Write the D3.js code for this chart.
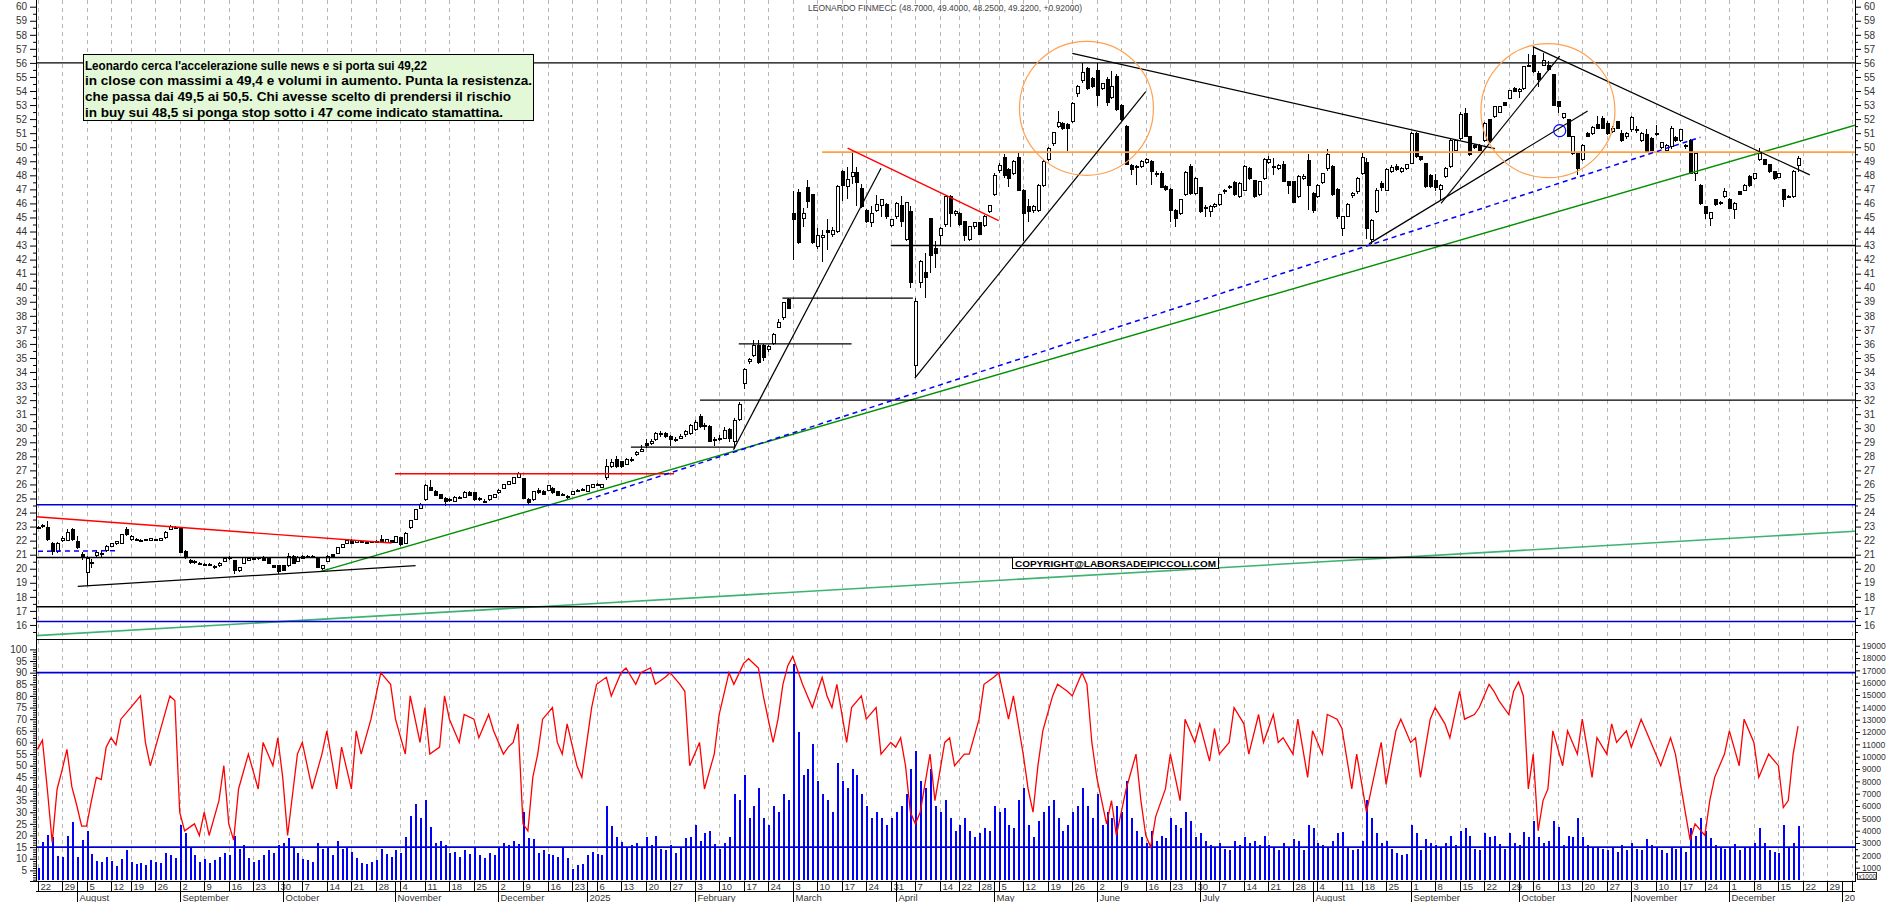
<!DOCTYPE html>
<html><head><meta charset="utf-8">
<script src="https://cdn.jsdelivr.net/npm/d3@7"></script>
<style>body{margin:0;background:#fff;overflow:hidden}svg{display:block;font-family:"Liberation Sans",Arial,sans-serif}</style>
</head><body>
<svg id="c" width="1890" height="902"></svg>
<script>
// ---------------- DATA ----------------
const title = "LEONARDO FINMECC (48.7000, 49.4000, 48.2500, 49.2200, +0.92000)";
const noteLines = [
 "Leonardo cerca l'accelerazione sulle news e si porta sui 49,22",
 "in close con massimi a 49,4 e volumi in aumento. Punta la resistenza.",
 "che passa dai 49,5 ai 50,5. Chi avesse scelto di prendersi il rischio",
 "in buy sui 48,5 si ponga stop sotto i 47 come indicato stamattina."
];
const copyright = "COPYRIGHT@LABORSADEIPICCOLI.COM";
const firstDay = "2024-07-22", lastDay = "2025-12-19", axisEnd = "2026-01-05";
const holidays = ["2024-08-15","2024-12-24","2024-12-25","2024-12-26","2024-12-31","2025-01-01","2025-04-18","2025-04-21","2025-05-01","2025-08-15"];
const weekTicks = ["2024-07-22","2024-07-29","2024-08-05","2024-08-12","2024-08-19","2024-08-26","2024-09-02","2024-09-09","2024-09-16","2024-09-23","2024-09-30","2024-10-07","2024-10-14","2024-10-21","2024-10-28","2024-11-04","2024-11-11","2024-11-18","2024-11-25","2024-12-02","2024-12-09","2024-12-16","2024-12-23","2025-01-06","2025-01-13","2025-01-20","2025-01-27","2025-02-03","2025-02-10","2025-02-17","2025-02-24","2025-03-03","2025-03-10","2025-03-17","2025-03-24","2025-03-31","2025-04-07","2025-04-14","2025-04-22","2025-04-28","2025-05-05","2025-05-12","2025-05-19","2025-05-26","2025-06-02","2025-06-09","2025-06-16","2025-06-23","2025-06-30","2025-07-07","2025-07-14","2025-07-21","2025-07-28","2025-08-04","2025-08-11","2025-08-18","2025-08-25","2025-09-01","2025-09-08","2025-09-15","2025-09-22","2025-09-29","2025-10-06","2025-10-13","2025-10-20","2025-10-27","2025-11-03","2025-11-10","2025-11-17","2025-11-24","2025-12-01","2025-12-08","2025-12-15","2025-12-22","2025-12-29","2026-01-05"];
const monthTicks = [["2024-08-01","August"],["2024-09-02","September"],["2024-10-01","October"],["2024-11-01","November"],["2024-12-02","December"],["2025-01-02","2025"],["2025-02-03","February"],["2025-03-03","March"],["2025-04-01","April"],["2025-05-02","May"],["2025-06-02","June"],["2025-07-01","July"],["2025-08-01","August"],["2025-09-01","September"],["2025-10-01","October"],["2025-11-03","November"],["2025-12-01","December"],["2026-01-01","2026"]];
const priceTicks = d3.range(16, 61);
const rsiTicks = d3.range(5, 101, 5);
const volumeTicks = d3.range(1000, 19001, 1000);

// daily candles [open, high, low, close]
const ohlc = [
[22.85,23.05,22.8,22.95],[23.0,23.15,22.9,23.05],[22.9,23.4,22.0,22.1],[21.8,21.9,21.0,21.2],[21.2,21.9,21.1,21.8],
[22.0,22.3,21.9,22.15],[22.0,22.8,21.95,22.55],[22.8,22.9,22.0,22.1],[21.95,22.3,21.4,21.5],[21.0,21.2,20.6,20.8],
[19.7,20.9,18.8,20.75],[20.4,20.7,20.05,20.45],[20.95,21.3,20.85,21.15],[21.1,21.3,20.75,21.05],[21.3,21.7,21.2,21.6],
[21.6,21.85,21.55,21.78],[21.8,22.0,21.7,21.95],[21.8,22.5,21.75,22.42],[22.8,23.0,22.3,22.45],[22.05,22.4,21.95,22.3],
[22.1,22.2,21.95,22.05],[22.0,22.1,21.9,22.0],[22.05,22.15,21.95,22.05],[22.0,22.2,21.95,22.15],[22.05,22.15,21.95,22.05],
[22.0,22.2,21.95,22.15],[22.2,22.7,22.15,22.6],[22.8,23.1,22.75,23.0],[22.95,23.05,22.85,22.95],[22.95,23.0,21.1,21.15],
[21.2,21.3,20.7,20.8],[20.6,20.7,20.35,20.45],[20.45,20.6,20.35,20.5],[20.4,20.5,20.25,20.4],[20.3,20.4,20.2,20.3],
[20.3,20.4,20.2,20.3],[20.15,20.3,20.0,20.15],[20.2,20.45,20.15,20.4],[20.5,20.75,20.45,20.7],[20.7,20.9,20.65,20.8],
[20.6,20.65,19.6,19.9],[19.9,20.15,19.8,20.1],[20.4,20.85,20.35,20.8],[20.6,20.8,20.55,20.7],[20.7,20.8,20.6,20.7],
[20.7,20.85,20.6,20.8],[20.8,20.9,20.55,20.6],[20.8,20.85,20.35,20.4],[20.2,20.3,20.05,20.1],[20.2,20.3,19.65,19.8],
[20.2,20.25,19.85,19.9],[20.2,21.1,20.15,20.9],[20.9,21.0,20.35,20.4],[20.5,20.9,20.45,20.8],[20.9,21.0,20.7,20.75],
[20.9,20.95,20.75,20.8],[20.85,20.95,20.75,20.85],[20.8,20.85,20.05,20.1],[20.0,20.3,19.9,20.2],[20.5,21.0,20.45,20.9],
[21.0,21.05,20.85,20.9],[21.1,21.55,21.05,21.5],[21.5,21.75,21.45,21.7],[21.8,22.05,21.75,22.0],[22.0,22.1,21.75,21.8],
[21.9,22.05,21.85,22.0],[21.95,22.0,21.9,21.95],[21.9,21.95,21.85,21.9],[21.95,22.0,21.85,21.9],[21.95,22.05,21.85,21.95],
[22.1,22.4,21.85,21.9],[21.9,22.15,21.85,22.1],[22.0,22.05,21.85,21.9],[21.9,22.35,21.85,22.3],[22.2,22.25,21.65,21.7],
[21.8,22.6,21.75,22.5],[22.9,23.5,22.85,23.4],[23.5,24.25,23.45,24.2],[24.3,24.7,24.25,24.6],[24.9,26.0,24.85,25.9],
[25.8,26.3,25.5,25.6],[25.5,25.6,25.15,25.2],[25.3,25.35,24.95,25.0],[25.0,25.1,24.5,24.8],[24.9,25.05,24.75,24.9],
[24.8,25.15,24.75,25.1],[25.0,25.2,24.95,25.1],[25.1,25.5,25.05,25.4],[25.4,25.5,25.15,25.2],[25.4,25.45,24.85,24.9],
[25.0,25.1,24.85,24.9],[24.8,24.95,24.7,24.8],[24.9,25.25,24.85,25.2],[25.1,25.35,25.05,25.3],[25.4,25.65,25.35,25.6],
[25.7,26.05,25.65,26.0],[26.0,26.25,25.95,26.2],[26.1,26.55,26.05,26.5],[26.5,26.85,26.45,26.8],[26.4,26.45,24.95,25.0],
[24.9,25.0,24.6,24.7],[24.9,25.55,24.85,25.5],[25.6,25.75,25.35,25.4],[25.5,25.6,25.25,25.3],[25.6,25.95,25.55,25.9],
[25.7,25.8,25.35,25.4],[25.5,25.55,25.15,25.2],[25.3,25.4,25.2,25.3],[25.15,25.25,24.95,25.15],[25.3,25.55,25.25,25.5],
[25.6,25.7,25.5,25.6],[25.65,25.75,25.55,25.65],[25.5,25.95,25.45,25.9],[25.8,26.05,25.75,26.0],[26.0,26.1,25.9,26.0],
[25.8,26.05,25.75,26.0],[26.5,27.8,26.3,27.25],[27.3,27.8,27.2,27.55],[27.75,28.0,27.2,27.3],[27.6,27.7,27.15,27.25],
[27.45,27.9,27.4,27.8],[27.75,27.95,27.6,27.8],[28.1,28.4,28.0,28.3],[28.35,28.8,28.3,28.5],[28.9,29.2,28.6,28.75],
[28.9,29.2,28.8,29.05],[29.2,29.7,29.1,29.6],[29.55,29.8,29.4,29.65],[29.6,29.75,29.3,29.4],[29.4,29.5,28.7,29.2],
[29.2,29.4,29.0,29.2],[29.3,29.6,29.2,29.4],[29.55,29.9,29.4,29.8],[29.6,30.3,29.5,30.2],[29.9,30.6,29.8,30.4],
[30.8,31.0,30.0,30.1],[30.2,30.4,29.9,30.2],[30.1,30.2,29.0,29.05],[29.2,29.4,28.7,29.2],[29.3,29.5,29.1,29.3],
[29.3,30.1,29.2,29.85],[29.9,30.0,29.0,29.3],[29.05,30.7,28.5,30.55],[30.6,31.9,30.5,31.7],[33.2,34.3,32.8,34.2],
[34.75,35.0,34.6,34.9],[35.2,36.3,35.1,35.9],[35.9,36.3,34.6,34.7],[35.9,36.0,34.8,35.0],[35.6,35.9,35.4,35.8],
[36.0,36.8,35.9,36.7],[37.2,37.8,37.1,37.5],[37.9,39.0,37.7,38.95],[39.14,39.3,38.5,38.55],[45.3,46.85,41.95,44.85],
[46.75,47.0,43.1,43.2],[44.95,45.7,44.35,45.3],[47.1,47.7,45.65,46.15],[46.6,46.65,43.1,43.2],[42.95,44.25,42.75,43.75],
[43.6,44.1,41.8,43.75],[44.1,44.9,42.7,43.9],[43.8,44.3,43.6,44.1],[44.0,47.3,43.9,47.2],[48.3,48.4,46.2,47.25],
[47.2,48.6,46.3,47.7],[47.95,49.8,47.4,48.2],[48.2,48.6,45.8,47.5],[47.05,47.4,45.7,45.8],[45.5,45.6,44.6,44.7],
[44.65,45.8,44.35,45.25],[45.5,46.6,45.4,45.9],[45.85,46.3,45.0,46.3],[45.9,46.0,44.9,45.05],[44.45,44.9,44.3,44.85],
[45.05,46.1,44.9,46.0],[45.85,46.5,44.35,44.7],[43.4,46.1,43.3,46.05],[45.4,45.8,39.95,40.4],[34.5,39.3,33.55,39.0],
[40.35,41.95,39.95,41.9],[41.05,42.45,39.25,40.75],[44.9,44.9,41.05,42.3],[42.8,43.3,41.4,42.45],[43.75,44.35,42.95,44.25],
[44.5,46.5,44.3,46.5],[46.5,46.6,44.35,45.3],[45.3,45.5,45.1,45.4],[45.3,45.4,44.4,44.5],[44.7,44.75,43.3,43.75],
[43.4,44.4,43.3,44.35],[44.35,44.7,44.2,44.65],[44.65,44.7,43.8,43.8],[44.45,45.15,44.35,45.1],[45.4,45.9,45.3,45.85],
[46.6,48.2,46.5,48.0],[48.35,48.9,48.2,48.7],[49.3,49.5,47.8,48.0],[48.4,48.5,47.2,47.8],[48.15,49.1,48.0,49.0],
[49.3,49.6,46.9,46.95],[46.9,47.0,43.3,45.3],[45.8,46.3,44.7,45.4],[45.5,45.9,45.3,45.8],[45.5,47.4,45.4,47.3],
[47.3,49.1,47.2,49.0],[49.1,50.0,49.0,49.9],[50.25,51.1,50.1,51.05],[51.5,52.6,51.4,51.75],[51.7,51.8,51.2,51.3],
[51.6,51.7,49.7,51.35],[51.8,53.2,51.7,53.1],[53.8,54.4,53.6,54.3],[54.75,56.0,54.6,55.3],[55.6,55.7,54.1,54.2],
[54.9,55.0,54.2,54.3],[55.45,56.0,52.9,53.7],[54.2,54.6,54.1,54.5],[54.8,55.0,52.9,53.2],[53.55,55.4,53.4,54.3],
[55.0,55.2,52.6,52.65],[53.0,53.1,51.9,52.0],[51.5,51.6,48.7,48.8],[48.7,48.8,48.0,48.4],[48.6,48.7,47.3,48.6],
[48.6,49.1,48.5,49.0],[48.9,49.2,48.8,49.1],[49.0,49.1,47.3,48.3],[48.15,48.3,47.9,48.15],[48.15,48.3,47.1,47.15],
[47.2,47.3,46.9,47.0],[47.0,47.1,44.7,45.5],[45.5,45.6,44.3,44.95],[45.3,46.3,45.2,46.25],[46.6,48.3,46.5,48.2],
[48.65,48.8,46.6,46.7],[46.7,47.9,46.6,47.8],[47.1,47.2,45.3,45.4],[45.7,45.9,45.0,45.65],[45.4,45.9,45.0,45.8],
[45.8,46.0,45.7,45.9],[45.9,46.7,45.8,46.6],[46.9,47.05,46.7,46.9],[47.1,47.3,47.0,47.2],[47.5,47.6,46.5,46.6],
[46.5,47.5,46.4,47.4],[46.95,48.7,46.9,48.6],[48.5,48.6,47.7,47.8],[47.6,47.7,46.4,46.5],[46.6,47.6,46.5,47.55],
[47.8,49.2,47.7,49.1],[48.9,49.4,48.8,49.1],[48.6,49.2,48.0,48.6],[48.5,48.8,48.4,48.7],[48.75,49.0,47.5,47.55],
[47.55,47.6,46.7,47.3],[47.55,47.6,46.0,46.1],[46.5,48.0,46.4,47.9],[47.8,48.1,47.7,47.95],[49.05,49.5,45.5,47.25],
[46.7,46.8,45.3,45.5],[46.5,47.4,46.4,47.3],[47.5,48.2,47.4,48.15],[48.45,49.9,48.3,49.45],[48.6,48.7,46.5,46.6],
[47.0,47.1,44.9,45.1],[44.2,45.1,43.7,45.1],[45.1,46.0,45.0,45.95],[46.55,46.8,46.4,46.7],[46.85,47.9,46.7,47.8],
[48.15,49.6,48.0,49.3],[48.9,49.2,43.5,44.25],[43.4,44.9,43.1,44.8],[45.4,47.1,45.3,46.95],[47.45,47.6,46.9,47.1],
[46.95,48.5,46.9,48.4],[48.3,48.7,48.2,48.55],[48.6,48.8,48.3,48.4],[48.3,48.6,48.2,48.5],[48.5,48.8,48.4,48.75],
[48.85,51.1,48.8,51.0],[51.0,51.1,49.2,49.35],[49.35,49.4,49.0,49.15],[48.85,48.9,47.1,47.2],[48.0,48.1,47.1,47.2],
[47.65,48.1,46.9,47.1],[47.0,47.4,46.2,47.3],[47.9,48.6,47.8,48.5],[48.6,50.6,48.5,50.5],[49.8,50.6,49.7,50.5],
[50.65,52.5,50.5,52.3],[52.4,52.8,50.7,50.75],[50.75,50.8,49.4,49.45],[50.15,50.2,49.9,49.95],[50.1,50.2,49.7,49.8],
[50.5,51.8,50.4,51.7],[51.95,52.0,50.4,50.5],[52.2,52.95,52.1,52.9],[52.5,52.95,52.4,52.9],[53.15,53.2,52.9,53.0],
[53.5,54.1,53.4,54.05],[54.2,54.3,53.9,53.95],[53.95,54.2,53.5,54.1],[54.2,55.8,54.1,55.75],[55.8,56.6,55.7,55.85],
[56.55,57.15,55.3,55.4],[55.25,55.4,54.3,54.8],[55.85,56.7,55.8,56.2],[55.85,56.1,55.4,55.5],[55.15,55.2,52.9,53.0],
[53.25,53.3,52.4,52.9],[52.15,52.45,52.0,52.4],[51.95,52.0,50.7,50.75],[49.55,50.8,49.45,50.75],[49.55,49.6,48.0,48.5],
[49.1,50.2,49.0,50.15],[50.95,51.1,50.7,50.75],[51.0,51.5,50.9,51.4],[51.6,52.2,51.3,51.35],[52.05,52.2,51.3,51.35],
[51.7,51.9,50.9,51.0],[51.1,51.5,51.0,51.35],[51.8,51.9,51.3,51.35],[51.0,51.2,50.4,50.5],[50.75,51.1,50.6,51.0],
[51.25,52.2,51.1,52.1],[51.2,51.5,51.0,51.25],[50.5,51.1,50.4,51.0],[50.9,51.3,49.6,49.7],[50.65,50.7,49.7,49.8],
[51.0,51.6,50.8,51.0],[49.95,50.4,49.9,50.3],[49.8,50.2,49.7,50.15],[50.05,51.5,49.9,51.35],[50.7,50.8,50.4,50.5],
[50.5,51.3,50.4,51.25],[50.05,50.2,49.9,50.15],[50.5,50.6,48.1,48.15],[48.15,49.6,47.6,49.55],[47.3,47.35,45.9,46.0],
[45.8,45.85,44.9,45.3],[44.95,45.4,44.4,45.35],[46.25,46.3,45.8,45.9],[46.1,46.2,45.9,46.0],[46.5,47.1,46.4,46.85],
[46.3,46.4,45.6,45.65],[45.55,46.1,44.9,46.0],[46.85,46.9,46.6,46.65],[46.95,47.4,46.9,47.3],[47.9,48.0,47.2,47.25],
[47.8,48.2,47.7,48.15],[49.1,49.95,49.0,49.55],[49.1,49.15,48.7,48.75],[48.75,48.8,48.2,48.3],[48.25,48.3,47.7,47.8],
[47.85,48.2,47.8,48.15],[47.0,47.05,45.75,46.3],[46.45,46.6,46.4,46.5],[46.5,48.35,46.4,48.3],[48.7,49.4,48.25,49.22]
];
// daily volume (axis units, x1000)
const volumes = [
1000,3060,3650,3510,1950,1890,3570,4730,1890,3250, 4000,2110,1580,1470,1890,1580,1160,1700,2400,1500,
1300,1400,1200,1600,1500,1400,2200,2000,1800, 4500,3800,2600,2000,1500,1700,1400,1600,1900,2200,
2000,3600,2500,2800,1800,1500,1600,2000,2400,2200,2800, 3000,3400,2600,2200,1700,1600,1500,3000,2500,2600,
2000,3200,2500,2700,2300,1800,1400,1300,1500,1600,2500,2100,1900, 2400,2200,3500,5200,6200,5000,6500,4300,3000,3200,
2800,2200,2300,1900,2400,2100,2600,2000,1800,2200,2000, 2600,3000,2800,3200,2900,5500,3400,3300,2200,2400,
2100,2000,1900,2600,1800,900,1200,1300, 2000,2300,2100,2000,6000,4400,3500,3100,2600,2800,
3000,2700,3500,2800,3600,2500,2400,2800,2200,2600,3400,3500, 4500,3200,3800,4000,2900,2500,3000,3500,7000,6500,
8500,5000,6000,7500,5000,4500,6000,5500,7000,6500, 17500,12000,8500,9000,11000,8000,7000,6500,5500,9500,
8000,7500,9000,8500,7000,6000,5000,5500,5000,4500,5000, 5500,6000,7000,9000,10500,8000,7500,9000,6000,5500,
6500,5000,4000,4500,5000,4000,3500,3800,4200,4000, 6000,5500,5800,4500,4200,6500,7500,4500,3500,4800,5500,
6000,6500,5000,4000,4500,5500,6000,7500,6000,5000, 7000,4500,5500,5000,6000,5500,8000,5000,4000,3500,3000,
4000,3200,3600,3400,5000,4500,4200,5500,4800,3500, 3800,3200,2800,2600,3000,2500,2400,3200,2800,3500,3000,
3200,2800,3600,2800,2600,2400,3000,2700,3300,3200,2400,4500, 4200,3000,2800,2700,3200,3800,3900,2600,2400,2500,
3200,6500,5000,3800,3000,3200,2500,2200,2000,2100, 4500,3800,2400,3300,3000,2800,2600,3000,3600,2800,4000,
4200,3600,2500,2400,3800,3500,3600,2900,2500,3800,3000, 2800,3900,3500,4800,3500,3000,3200,4800,4300,2800,3600,
3500,5000,3500,2800,2600,2700,2500,2400,2600,2300,2800,2400, 3000,2500,2400,3300,2800,2600,2400,2200,2700,2500,
2600,2300,4200,3600,5000,4000,3400,2800,2600,2500, 2600,2900,2400,2700,2600,3000,4200,3000,2400,2300,2200,4500,2600,3000,4400
];
// oscillator readings [day index, value]
const rsiPoints = [[0,57],[1,61],[2,40],[3,17],[4,40],[5,48],[6,57],[7,41],[8,33],[9,24],[10,24],[11,35],[12,45],[13,44],[14,58],[15,62],[16,59],[17,70],[19,75],[21,80],[22,60],[23,50],[25,65],[27,80],[28,78],[29,30],[30,22],[32,25],[33,20],[34,30],[35,20],[37,35],[38,50],[39,25],[40,18],[41,40],[43,55],[45,40],[46,60],[48,50],[49,62],[50,45],[51,20],[53,55],[54,60],[56,40],[58,55],[59,65],[61,40],[62,58],[64,40],[65,65],[66,55],[68,70],[70,90],[72,85],[73,70],[75,55],[76,80],[78,60],[79,75],[80,55],[82,58],[83,80],[84,70],[86,60],[87,72],[89,70],[90,62],[92,72],[93,65],[95,55],[96,58],[97,60],[98,68],[99,25],[100,22],[101,45],[102,55],[103,70],[105,75],[106,60],[107,55],[108,68],[110,50],[111,45],[113,75],[114,85],[116,88],[117,80],[119,90],[120,92],[122,85],[123,90],[125,92],[126,85],[128,88],[129,90],[131,85],[132,82],[133,50],[135,60],[136,40],[138,55],[139,72],[141,90],[142,85],[144,94],[145,96],[147,92],[148,80],[150,60],[151,70],[152,85],[153,93],[154,97],[156,85],[157,80],[158,75],[160,88],[161,80],[162,75],[163,85],[165,60],[166,75],[168,80],[169,70],[171,75],[172,55],[174,60],[175,58],[176,62],[177,50],[178,30],[179,25],[180,30],[182,55],[183,35],[185,60],[186,62],[187,50],[189,55],[190,55],[192,70],[193,85],[195,88],[196,90],[198,70],[199,80],[201,55],[202,40],[203,30],[204,50],[205,65],[207,80],[208,85],[210,82],[211,80],[213,90],[214,85],[215,60],[216,45],[218,25],[219,35],[220,20],[222,40],[224,55],[225,35],[226,20],[227,15],[228,28],[230,40],[231,55],[233,35],[234,70],[236,60],[237,68],[239,52],[240,66],[241,55],[243,60],[244,75],[246,68],[247,55],[249,72],[250,60],[252,72],[253,60],[254,62],[256,55],[257,70],[259,45],[260,65],[262,55],[263,72],[265,70],[266,66],[268,40],[269,55],[271,30],[272,40],[274,60],[275,42],[277,65],[278,70],[280,60],[281,62],[282,45],[284,70],[285,75],[287,68],[288,62],[290,82],[291,70],[293,72],[294,75],[296,85],[297,82],[298,78],[300,72],[301,82],[302,86],[303,80],[304,40],[305,55],[306,22],[307,35],[308,40],[309,65],[311,50],[312,65],[314,55],[315,70],[317,45],[318,62],[320,55],[321,68],[322,60],[324,65],[325,58],[327,70],[328,65],[330,55],[331,50],[333,62],[334,55],[336,30],[337,18],[338,25],[340,20],[341,35],[342,45],[344,55],[345,65],[347,50],[348,70],[350,60],[351,45],[353,55],[355,50],[356,32],[357,35],[358,55],[359,67]];

// drawn study lines: [dayIndex1, price1, dayIndex2, price2]
const blackSegments = [[8.2,18.75,77.1,20.22],[121,28.66,142.3,28.66],[141.9,28.47,172,48.5],[151.9,39.26,178.5,39.26],[143,36.0,166,36.0],[178.9,33.57,226,53.96],[211,56.68,297.2,49.9],[271.5,43.12,316.1,52.58],[286.2,46.0,310.4,56.49],[304.9,57.16,361.4,48.03]];
const blackLevels = [[null,56],[null,20.8],[null,17.3],[135.1,32],[174,43]]; // [start day index (null = left edge), price]
const blueLevels = [24.55, 16.25];
const orangeLevels = [[160,49.65]];
const redSegments = [[null,23.7,72.2,21.83],[72.9,26.76,129.8,26.76],[165.2,49.93,196,44.78]];
const blueDashed = [[0.1,21.25,16.2,21.28],[112.1,24.9,339.1,50.71]];
const greenDark = [[57.8,19.81,null,51.56]];
const greenLight = [[null,15.24,null,22.67]];
const orangeCircles = [[213.9,52.77],[308,52.6]];
const blueCircles = [[310.4,51.18]];
const rsiLevels = [90, 15];

// ---------------- CHART ----------------
const svg = d3.select("#c");
const L = 36, R = 1855, priceBottom = 639, lowTop = 639, lowBottom = 881.5;
const parse = d3.utcParse("%Y-%m-%d"), fmt = d3.utcFormat("%Y-%m-%d");
const isWeekday = d => d.getUTCDay() % 6 !== 0;
const past = d3.utcDay.range(parse(firstDay), d3.utcDay.offset(parse(lastDay), 1)).filter(d => isWeekday(d) && !holidays.includes(fmt(d)));
const future = d3.utcDay.range(d3.utcDay.offset(parse(lastDay), 1), d3.utcDay.offset(parse(axisEnd), 1)).filter(isWeekday);
const days = past.concat(future).map(fmt);
const dayIndex = new Map(days.map((d, i) => [d, i]));

const step = 4.904;
const x = d3.scaleLinear().domain([0, days.length - 1]).range([37.5, 37.5 + (days.length - 1) * step]);
const iL = x.invert(L), iR = x.invert(R);
const yP = d3.scaleLinear().domain([15, 60]).range([priceBottom, 6.7]);
const yR = d3.scaleLinear().domain([0, 100]).range([882, 649.4]);
const yV = d3.scaleLinear().domain([0, 19000]).range([880, 645.7]);

const defs = svg.append("defs");
defs.append("clipPath").attr("id", "clipP").append("rect").attr("x", L).attr("y", 0).attr("width", R - L).attr("height", priceBottom);
defs.append("clipPath").attr("id", "clipL").append("rect").attr("x", L).attr("y", lowTop).attr("width", R - L).attr("height", lowBottom - lowTop);
defs.append("clipPath").attr("id", "clipX").append("rect").attr("x", 0).attr("y", 0).attr("width", R).attr("height", 902);

// weekly grid
const gridX = weekTicks.map(d => Math.round(x(dayIndex.get(d))) + 0.5);
svg.append("g").selectAll("line").data(gridX).join("line")
  .attr("x1", d => d).attr("x2", d => d).attr("y1", 0).attr("y2", lowBottom)
  .attr("stroke", "#b4b4b4").attr("stroke-dasharray", "4,4");

// ---- price panel
const gp = svg.append("g").attr("clip-path", "url(#clipP)");
const seg = (g, data, color, w, dash) => g.append("g").selectAll("line").data(data).join("line")
  .attr("x1", d => x(d[0] === null ? iL : d[0])).attr("y1", d => yP(d[1]))
  .attr("x2", d => x(d[2] === null ? iR : d[2])).attr("y2", d => yP(d[3]))
  .attr("stroke", color).attr("stroke-width", w).attr("stroke-dasharray", dash || null);

// candles
const cg = gp.append("g").attr("shape-rendering", "crispEdges");
const cand = cg.selectAll("g").data(ohlc).join("g");
cand.append("line")
  .attr("x1", (d, i) => Math.round(x(i)) + 0.5).attr("x2", (d, i) => Math.round(x(i)) + 0.5)
  .attr("y1", d => yP(d[1])).attr("y2", d => yP(d[2])).attr("stroke", "#000");
cand.append("rect")
  .attr("x", (d, i) => Math.round(x(i)) - 1)
  .attr("y", d => yP(Math.max(d[0], d[3])))
  .attr("width", 3)
  .attr("height", d => Math.max(1, yP(Math.min(d[0], d[3])) - yP(Math.max(d[0], d[3]))))
  .attr("fill", d => d[3] < d[0] ? "#000" : "#fff").attr("stroke", "#000").attr("stroke-width", 1);

// levels and studies
seg(gp, greenLight, "#3cb371", 1.6);
seg(gp, greenDark, "#009000", 1.4);
seg(gp, blueLevels.map(p => [null, p, null, p]), "#0000d0", 1.6);
seg(gp, blackLevels.map(d => [d[0], d[1], null, d[1]]), "#000", 1.4);
seg(gp, orangeLevels.map(d => [d[0], d[1], null, d[1]]), "#ffa040", 1.6);
seg(gp, redSegments, "#ff0000", 1.4);
seg(gp, blackSegments, "#000", 1.2);
seg(gp, blueDashed, "#0000ff", 1.5, "5,4");
gp.append("g").selectAll("circle").data(orangeCircles).join("circle")
  .attr("cx", d => x(d[0])).attr("cy", d => yP(d[1])).attr("r", 67)
  .attr("fill", "none").attr("stroke", "#ffa050").attr("stroke-width", 1.2);
gp.append("g").selectAll("circle").data(blueCircles).join("circle")
  .attr("cx", d => x(d[0])).attr("cy", d => yP(d[1])).attr("r", 6)
  .attr("fill", "none").attr("stroke", "#0000ff").attr("stroke-width", 1.2);

// ---- lower panel
const gl = svg.append("g").attr("clip-path", "url(#clipL)");
gl.append("g").attr("shape-rendering", "crispEdges").selectAll("rect").data(volumes).join("rect")
  .attr("x", (d, i) => Math.round(x(i))).attr("width", 1.6)
  .attr("y", d => yV(d)).attr("height", d => yV(0) - yV(d)).attr("fill", "#0000ff");
gl.append("g").selectAll("line").data(rsiLevels).join("line")
  .attr("x1", L).attr("x2", R).attr("y1", d => yR(d)).attr("y2", d => yR(d))
  .attr("stroke", "#0000d0").attr("stroke-width", 1.6);
gl.append("path").datum(rsiPoints)
  .attr("d", d3.line().x(d => x(d[0])).y(d => yR(d[1])))
  .attr("fill", "none").attr("stroke", "#ff0000").attr("stroke-width", 1.3);

// ---- frame lines
const frame = svg.append("g").attr("stroke", "#000").attr("shape-rendering", "crispEdges");
frame.append("line").attr("x1", L).attr("x2", L).attr("y1", 0).attr("y2", lowBottom);
frame.append("line").attr("x1", R).attr("x2", R).attr("y1", 0).attr("y2", lowBottom);
frame.append("line").attr("x1", L).attr("x2", R).attr("y1", priceBottom + 0.5).attr("y2", priceBottom + 0.5).attr("stroke-width", 1.5);
frame.append("line").attr("x1", L - 6).attr("x2", R).attr("y1", lowBottom).attr("y2", lowBottom).attr("stroke-width", 1.5);
frame.append("line").attr("x1", L).attr("x2", R).attr("y1", 891.5).attr("y2", 891.5).attr("stroke-width", 1.5);

// ---- axes
const styleAxis = size => g => {
  g.select(".domain").remove();
  g.selectAll("text").attr("fill", "#333").attr("font-size", size).attr("font-family", "'Liberation Sans',Arial,sans-serif");
  g.selectAll("line").attr("stroke", "#000");
};
svg.append("g").attr("transform", `translate(${L},0)`).call(d3.axisLeft(yP).tickValues(priceTicks).tickSize(6).tickPadding(3)).call(styleAxis("10px"));
svg.append("g").attr("transform", `translate(${L},0)`).call(d3.axisLeft(yP).tickValues(priceTicks.map(v => v - 0.5)).tickSize(3).tickFormat("")).call(styleAxis("10px"));
svg.append("g").attr("transform", `translate(${R},0)`).call(d3.axisRight(yP).tickValues(priceTicks).tickSize(6).tickPadding(3)).call(styleAxis("10px"));
svg.append("g").attr("transform", `translate(${R},0)`).call(d3.axisRight(yP).tickValues(priceTicks.map(v => v - 0.5)).tickSize(3).tickFormat("")).call(styleAxis("10px"));
svg.append("g").attr("transform", `translate(${L},0)`).call(d3.axisLeft(yR).tickValues(rsiTicks).tickSize(6).tickPadding(3)).call(styleAxis("10px"));
svg.append("g").attr("transform", `translate(${L},0)`).call(d3.axisLeft(yR).tickValues(d3.range(1, 101).filter(v => v % 5)).tickSize(3).tickFormat("")).call(styleAxis("10px"));
svg.append("g").attr("transform", `translate(${R},0)`).call(d3.axisRight(yV).tickValues(volumeTicks).tickSize(5).tickPadding(2).tickFormat(d3.format("d"))).call(styleAxis("8.6px"));
svg.append("g").attr("transform", `translate(${R},0)`).call(d3.axisRight(yV).tickValues(volumeTicks.map(v => v - 500)).tickSize(3).tickFormat("")).call(styleAxis("8.6px"));

// x1000 tag
svg.append("rect").attr("x", 1857.5).attr("y", 872.5).attr("width", 19).attr("height", 7).attr("fill", "#fff").attr("stroke", "#000").attr("stroke-width", 0.8);
svg.append("text").attr("x", 1858.5).attr("y", 878.5).attr("font-size", "6.5px").attr("fill", "#333").text("x1000");

// ---- date axis
const xa = svg.append("g").attr("clip-path", "url(#clipX)");
xa.append("g").attr("shape-rendering", "crispEdges").selectAll("line").data(gridX).join("line")
  .attr("x1", d => d).attr("x2", d => d).attr("y1", lowBottom).attr("y2", 891.5).attr("stroke", "#000");
xa.append("g").selectAll("text").data(weekTicks).join("text")
  .attr("x", d => Math.round(x(dayIndex.get(d))) + 2.5).attr("y", 889.5)
  .attr("font-size", "9.5px").attr("fill", "#333").text(d => +d.slice(8));
const monthX = monthTicks.map(m => Math.round(x(dayIndex.get(m[0]))) + 0.5);
xa.append("g").attr("shape-rendering", "crispEdges").selectAll("line").data(monthX).join("line")
  .attr("x1", d => d).attr("x2", d => d).attr("y1", lowBottom).attr("y2", 902).attr("stroke", "#000").attr("stroke-width", 1.5);
xa.append("g").selectAll("text").data(monthTicks).join("text")
  .attr("x", (d, i) => monthX[i] + 2).attr("y", 900.5)
  .attr("font-size", "9.5px").attr("fill", "#333").text(d => d[1]);

// ---- texts
svg.append("text").attr("x", 808).attr("y", 10.5).attr("font-size", "9px").attr("fill", "#444")
  .attr("textLength", 274).attr("lengthAdjust", "spacingAndGlyphs").text(title);
svg.append("rect").attr("x", 83.5).attr("y", 54.5).attr("width", 450).attr("height", 66).attr("fill", "#e2f8d6").attr("stroke", "#000");
const noteWidths = [342, 447, 426, 418];
svg.append("g").selectAll("text").data(noteLines).join("text")
  .attr("x", 85).attr("y", (d, i) => 69.5 + i * 15.8)
  .attr("font-size", "13px").attr("font-weight", "bold").attr("fill", "#000")
  .attr("textLength", (d, i) => noteWidths[i]).attr("lengthAdjust", "spacingAndGlyphs").text(d => d);
svg.append("rect").attr("x", 1012.5).attr("y", 557.5).attr("width", 206).attr("height", 11).attr("fill", "#fff").attr("stroke", "#000");
svg.append("text").attr("x", 1015).attr("y", 566.5).attr("font-size", "9.5px").attr("font-weight", "bold").attr("fill", "#000")
  .attr("textLength", 201).attr("lengthAdjust", "spacingAndGlyphs").text(copyright);
</script>
</body></html>
